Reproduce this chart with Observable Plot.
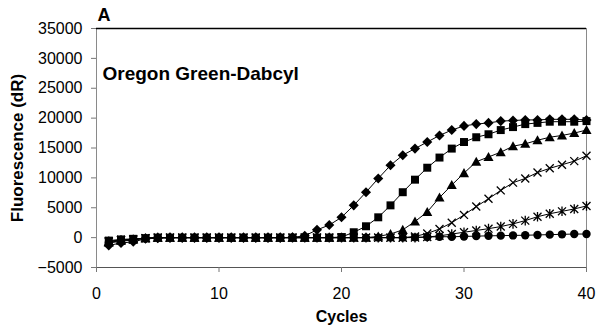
<!DOCTYPE html>
<html>
<head>
<meta charset="utf-8">
<script src="https://cdn.jsdelivr.net/npm/d3@7"></script>
<script src="https://cdn.jsdelivr.net/npm/@observablehq/plot@0.6"></script>
<style>
  html, body { margin: 0; padding: 0; background: #fff; }
  #chart svg { display: block; }
</style>
</head>
<body>
<div id="chart"></div>
<script>
// Amplification curves, Oregon Green-Dabcyl probe: fluorescence (dR) per PCR cycle.
const cycles = [1,2,3,4,5,6,7,8,9,10,11,12,13,14,15,16,17,18,19,20,
                21,22,23,24,25,26,27,28,29,30,31,32,33,34,35,36,37,38,39,40];

const diamondValues = [-1300,-900,-700,-200,-100,0,0,0,0,0,0,0,0,0,0,50,300,1300,2100,3400,
                       5400,7600,9900,12100,13800,14900,16000,17100,18000,18700,19000,19200,19500,19600,19700,19700,19800,19800,19800,19700];
const squareValues = [-500,-300,-200,-100,0,0,0,0,0,0,0,0,0,0,0,0,0,0,0,100,
                      900,1900,3400,5400,7600,9700,11700,13400,14900,16000,16800,17300,18000,18500,19000,19200,19400,19400,19400,19500];
const triangleValues = [-800,-500,-300,-100,0,0,0,0,0,0,0,0,0,0,0,0,0,0,0,0,
                        0,0,200,600,1300,2700,4300,6700,8800,10800,12700,13500,14300,15300,15700,16300,16800,17100,17500,18000];
const crossValues = [-700,-400,-300,-100,0,0,0,0,0,0,0,0,0,0,0,0,0,0,0,0,
                     0,0,0,0,0,200,700,1450,2500,3800,5200,6500,7900,9200,9900,10900,11600,12200,12800,13700];
const starValues = [-600,-400,-300,-100,0,0,0,0,0,0,0,0,0,0,0,0,0,0,0,0,
                    0,0,0,0,0,0,100,300,600,900,1200,1500,1850,2300,2850,3500,4000,4400,4800,5300];
const circleValues = [-900,-600,-400,-100,0,0,0,0,0,0,0,0,0,0,0,0,0,0,0,0,
                      0,0,0,0,0,50,100,150,150,200,250,300,330,370,400,450,500,550,600,600];

const xTicks = [0, 10, 20, 30, 40];
const yTicks = [-5000, 0, 5000, 10000, 15000, 20000, 25000, 30000, 35000];

// Marker shapes drawn like spreadsheet chart markers.
const rOf = size => Math.sqrt(size / Math.PI);
const diamondSym = {draw(c, size) { const r = rOf(size) * 1.2; c.moveTo(0, -r); c.lineTo(r, 0); c.lineTo(0, r); c.lineTo(-r, 0); c.closePath(); }};
const squareSym = {draw(c, size) { const r = rOf(size) * 0.95; c.rect(-r, -r, 2 * r, 2 * r); }};
const triangleSym = {draw(c, size) { const r = rOf(size) * 1.2; c.moveTo(0, -r); c.lineTo(r, r * 0.8); c.lineTo(-r, r * 0.8); c.closePath(); }};
const circleSym = {draw(c, size) { const r = rOf(size); c.moveTo(r, 0); c.arc(0, 0, r, 0, 2 * Math.PI); }};
const timesSym = {draw(c, size) { const r = rOf(size) * 0.95; c.moveTo(-r, -r); c.lineTo(r, r); c.moveTo(r, -r); c.lineTo(-r, r); }};
const starSym = {draw(c, size) { const r = rOf(size) * 0.95; c.moveTo(-r, -r); c.lineTo(r, r); c.moveTo(r, -r); c.lineTo(-r, r); c.moveTo(0, -r * 1.2); c.lineTo(0, r * 1.2); }};

const series = [
  {name: "circle", values: circleValues, symbol: circleSym, filled: true},
  {name: "star", values: starValues, symbol: starSym, filled: false},
  {name: "cross", values: crossValues, symbol: timesSym, filled: false},
  {name: "triangle", values: triangleValues, symbol: triangleSym, filled: true},
  {name: "square", values: squareValues, symbol: squareSym, filled: true},
  {name: "diamond", values: diamondValues, symbol: diamondSym, filled: true}
];

const rows = s => cycles.map((c, i) => ({cycle: c, value: s.values[i], name: s.name}));

const marks = [
  Plot.frame({stroke: "#8a8a8a"}),
  Plot.ruleY([35000], {stroke: "#000", strokeWidth: 1.3}),
  Plot.ruleY([-5000], {stroke: "#555"}),
  Plot.axisX(xTicks, {tickSize: 5, tickPadding: 15, stroke: "#777", fill: "#000", fontSize: 16, label: null}),
  Plot.axisY(yTicks, {tickSize: 5, tickPadding: 9, stroke: "#777", fill: "#000", fontSize: 16, tickFormat: d3.format("d"), label: null})
];

for (const s of series) {
  const data = rows(s);
  marks.push(Plot.line(data, {x: "cycle", y: "value", stroke: "#000", strokeWidth: 1}));
  marks.push(Plot.dot(data, s.filled
    ? {x: "cycle", y: "value", symbol: s.symbol, r: 4.2, fill: "#000", stroke: "none"}
    : {x: "cycle", y: "value", symbol: s.symbol, r: 4.2, fill: "none", stroke: "#000", strokeWidth: 1.3}));
}

marks.push(
  Plot.text(["A"], {frameAnchor: "top-left", dx: 1, dy: -13, lineAnchor: "middle", textAnchor: "start", fontSize: 18, fontWeight: "bold", fill: "#000"}),
  Plot.text(["Oregon Green-Dabcyl"], {frameAnchor: "top-left", dx: 6, dy: 45, lineAnchor: "middle", textAnchor: "start", fontSize: 19, fontWeight: "bold", fill: "#000"}),
  Plot.text(["Cycles"], {frameAnchor: "bottom", dy: 49, lineAnchor: "middle", fontSize: 16, fontWeight: "bold", fill: "#000"}),
  Plot.text(["Fluorescence (dR)"], {frameAnchor: "left", dx: -79, rotate: -90, lineAnchor: "middle", textAnchor: "middle", fontSize: 17, fontWeight: "bold", fill: "#000"})
);

const chart = Plot.plot({
  width: 596,
  height: 328,
  marginLeft: 96,
  marginRight: 10,
  marginTop: 28,
  marginBottom: 61,
  x: {domain: [0, 40]},
  y: {domain: [-5000, 35000]},
  style: {fontFamily: "'Liberation Sans', Arial, sans-serif", fontSize: "16px", background: "#fff", color: "#000"},
  marks
});

document.getElementById("chart").appendChild(chart);
</script>
</body>
</html>
